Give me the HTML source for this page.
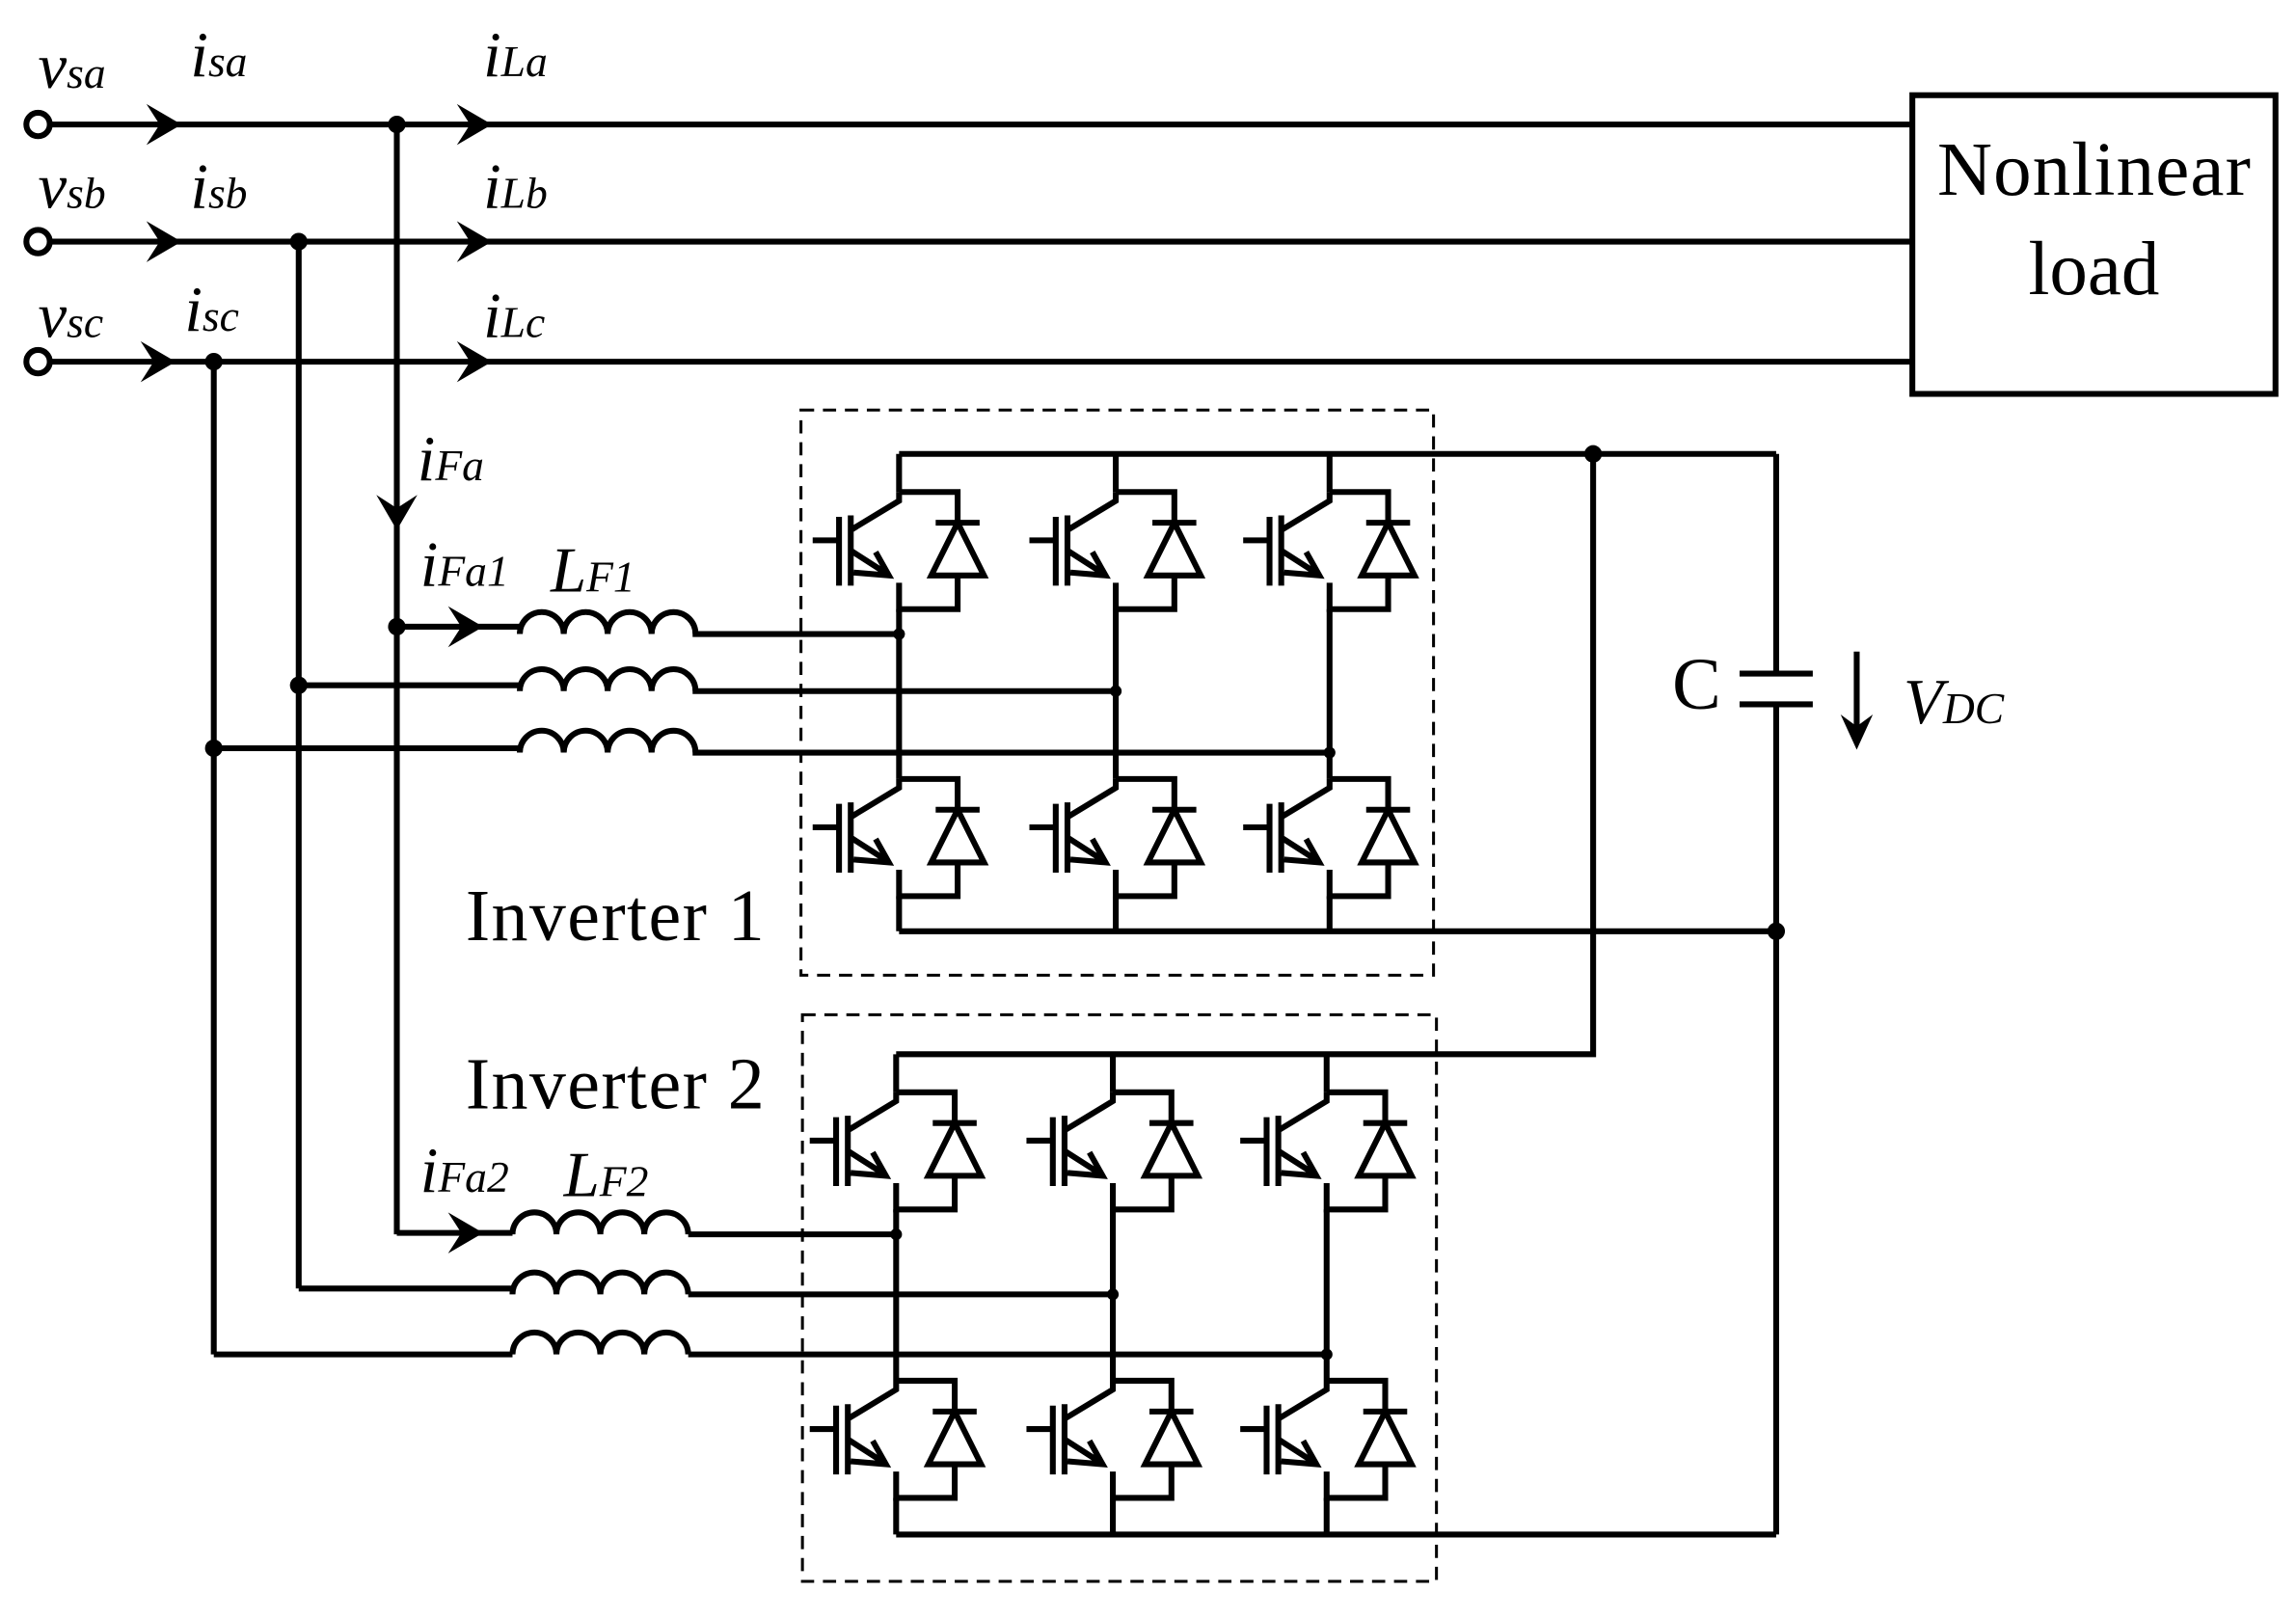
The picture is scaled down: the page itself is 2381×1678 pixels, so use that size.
<!DOCTYPE html>
<html><head><meta charset="utf-8"><style>
html,body{margin:0;padding:0;background:#fff}
svg{display:block}
text{font-family:"Liberation Serif","DejaVu Serif",serif;fill:#000}
.it{font-style:italic}
</style></head><body>
<svg width="2381" height="1678" viewBox="0 0 1568 1105" xmlns="http://www.w3.org/2000/svg">
<defs>
<g id="sw" fill="none" stroke="#000" stroke-width="4">
<path d="M0,0 V6 L-33,26 M-33,16 V64 M-41,17 V64 M-59,33 H-41 M-33,40 L-8,56 M-16,41 L-7,57 L-31,55 M0,62 V80 H40 V57 M0,0 H40 V21 M25,21 H55 M40,21 L22,57 H58 Z"/>
</g>
<g id="ar"><path d="M0,0 L-24,-14 L-15,0 L-24,14 Z" fill="#000"/></g>
<g id="ind" fill="none" stroke="#000" stroke-width="4"><path d="M0,0 a15,15 0 0 1 30,0 a15,15 0 0 1 30,0 a15,15 0 0 1 30,0 a15,15 0 0 1 30,0"/></g>
</defs>
<g fill="none" stroke="#000" stroke-width="4">
<path d="M34,85 H1306 M34,165 H1306 M34,247 H1306"/>
<rect x="1306" y="65" width="248" height="204"/>
<path d="M271,85 V843 M204,165 V880 M146,247 V925"/>
<path d="M271,428 H355 M473,433 H614 M204,468 H355 M473,472 H762 M146,511 H355 M473,514 H908"/>
<path d="M271,842 H350 M470,843 H612 M204,880 H350 M470,884 H760 M146,925 H350 M470,925 H906"/>
<path d="M614,310 H1213 M614,636 H1213"/>
<path d="M614,310 V336 M614,416 V532 M614,612 V636 M762,310 V336 M762,416 V532 M762,612 V636 M908,310 V336 M908,416 V532 M908,612 V636"/>
<path d="M612,720 H1088 V310 M612,1048 H1213"/>
<path d="M612,720 V746 M612,826 V943 M612,1023 V1048 M760,720 V746 M760,826 V943 M760,1023 V1048 M906,720 V746 M906,826 V943 M906,1023 V1048"/>
<path d="M1213,310 V460 M1213,481 V1048 M1188,460 H1238 M1188,481 H1238 M1268,445 V505"/>
</g>
<path d="M1268,512 L1257,488 L1268,496 L1279,488 Z" fill="#000"/>
<g fill="none" stroke="#000" stroke-width="2" stroke-dasharray="9,6">
<rect x="547" y="280" width="432" height="386"/>
<rect x="548" y="693" width="433" height="387"/>
</g>
<g fill="#fff" stroke="#000" stroke-width="4">
<circle cx="26" cy="85" r="8"/><circle cx="26" cy="165" r="8"/><circle cx="26" cy="247" r="8"/>
</g>
<g fill="#000">
<circle cx="271" cy="85" r="6"/><circle cx="204" cy="165" r="6"/><circle cx="146" cy="247" r="6"/>
<circle cx="271" cy="428" r="6"/><circle cx="204" cy="468" r="6"/><circle cx="146" cy="511" r="6"/>
<circle cx="614" cy="433" r="4"/><circle cx="762" cy="472" r="4"/><circle cx="908" cy="514" r="4"/>
<circle cx="612" cy="843" r="4"/><circle cx="760" cy="884" r="4"/><circle cx="906" cy="925" r="4"/>
<circle cx="1088" cy="310" r="6"/><circle cx="1213" cy="636" r="6"/>
</g>
<use href="#ar" x="124" y="85"/><use href="#ar" x="124" y="165"/><use href="#ar" x="120" y="247"/>
<use href="#ar" x="336" y="85"/><use href="#ar" x="336" y="165"/><use href="#ar" x="336" y="247"/>
<use href="#ar" transform="translate(271,362) rotate(90)"/>
<use href="#ar" x="330" y="428"/><use href="#ar" x="330" y="842"/>
<use href="#ind" x="355" y="433"/><use href="#ind" x="355" y="472"/><use href="#ind" x="355" y="514"/>
<use href="#ind" x="350" y="843"/><use href="#ind" x="350" y="884"/><use href="#ind" x="350" y="925"/>
<use href="#sw" x="614" y="336"/><use href="#sw" x="762" y="336"/><use href="#sw" x="908" y="336"/>
<use href="#sw" x="614" y="532"/><use href="#sw" x="762" y="532"/><use href="#sw" x="908" y="532"/>
<use href="#sw" x="612" y="746"/><use href="#sw" x="760" y="746"/><use href="#sw" x="906" y="746"/>
<use href="#sw" x="612" y="943"/><use href="#sw" x="760" y="943"/><use href="#sw" x="906" y="943"/>
<g font-size="52" text-anchor="middle"><text x="1430" y="133" textLength="214">Nonlinear</text><text x="1430" y="201">load</text></g>
<g font-size="50"><text x="318" y="642" textLength="204">Inverter 1</text><text x="318" y="757" textLength="204">Inverter 2</text><text x="1142" y="484">C</text></g>
<g class="it" font-size="44">
<text x="26" y="60">v<tspan font-size="30">sa</tspan></text>
<text x="26" y="142">v<tspan font-size="30">sb</tspan></text>
<text x="26" y="230">v<tspan font-size="30">sc</tspan></text>
<text x="130" y="52">i<tspan font-size="30">sa</tspan></text>
<text x="130" y="142">i<tspan font-size="30">sb</tspan></text>
<text x="126" y="226">i<tspan font-size="30">sc</tspan></text>
<text x="330" y="52">i<tspan font-size="30">La</tspan></text>
<text x="330" y="142">i<tspan font-size="30">Lb</tspan></text>
<text x="330" y="230">i<tspan font-size="30">Lc</tspan></text>
<text x="285" y="328">i<tspan font-size="30">Fa</tspan></text>
<text x="287" y="400">i<tspan font-size="30">Fa1</tspan></text>
<text x="376" y="404">L<tspan font-size="30">F1</tspan></text>
<text x="287" y="814">i<tspan font-size="30">Fa2</tspan></text>
<text x="385" y="817">L<tspan font-size="30">F2</tspan></text>
<text x="1300" y="494">V<tspan font-size="30">DC</tspan></text>
</g>
</svg>
</body></html>
